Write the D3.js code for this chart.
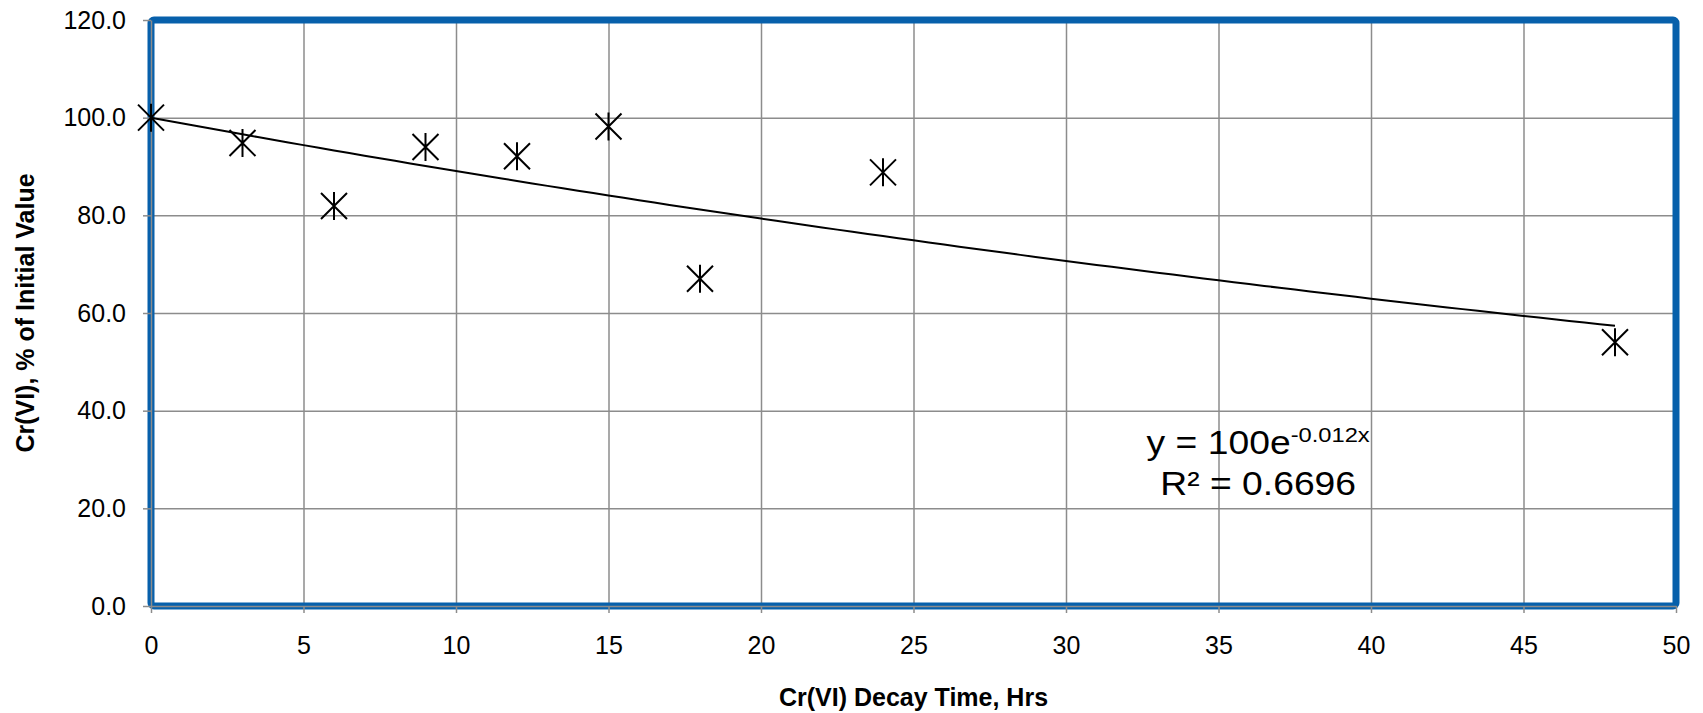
<!DOCTYPE html>
<html>
<head>
<meta charset="utf-8">
<script src="https://cdn.jsdelivr.net/npm/d3@7"></script>
<style>
  body { margin: 0; background: #fff; }
  svg { display: block; font-family: 'Liberation Sans', Arial, sans-serif; }
  .grid line { stroke: #8c8c8c; stroke-width: 1.5; }
  .grid .domain { display: none; }
  .axis .domain, .axis line { stroke: #8c8c8c; stroke-width: 1.5; }
  .axis text { font-size: 25px; fill: #000; }
</style>
</head>
<body>
<div id="chart-area"></div>
<script>
// page size and plot box
const W = 1703;
const H = 713;
const margin = { left: 151, right: 27, top: 20, bottom: 107 };
const width = W - margin.left - margin.right;
const height = H - margin.top - margin.bottom;

// data
const hours = [0, 3, 6, 9, 12, 15, 18, 24, 48];
const percent = [100, 94.8, 81.9, 94.0, 92.1, 98.2, 67.0, 88.8, 54.0];
const xTicks = [0, 5, 10, 15, 20, 25, 30, 35, 40, 45, 50];
const yTicks = [0, 20, 40, 60, 80, 100, 120];
const eqMain = 'y = 100e';
const eqSup = '-0.012x';
const eqR2 = 'R² = 0.6696';

const points = hours.map((h, i) => ({ x: h, y: percent[i] }));

const svg = d3
  .select('#chart-area')
  .append('svg')
  .attr('width', W)
  .attr('height', H);

const g = svg
  .append('g')
  .attr('transform', `translate(${margin.left}, ${margin.top})`);

// scales
const x = d3.scaleLinear().domain([0, 50]).range([0, width]);
const y = d3.scaleLinear().domain([0, 120]).range([height, 0]);

// gridlines
g.append('g')
  .attr('class', 'grid')
  .attr('transform', `translate(0, ${height})`)
  .call(d3.axisBottom(x).tickValues(xTicks).tickSize(-height).tickFormat(''));

g.append('g')
  .attr('class', 'grid')
  .call(d3.axisLeft(y).tickValues(yTicks).tickSize(-width).tickFormat(''));

// blue frame round the plot area
g.append('rect')
  .attr('x', 0)
  .attr('y', 0)
  .attr('width', width)
  .attr('height', height)
  .attr('rx', 3)
  .attr('fill', 'none')
  .attr('stroke', '#0760ab')
  .attr('stroke-width', 7);

// axes
g.append('g')
  .attr('class', 'axis')
  .attr('transform', `translate(0, ${height})`)
  .call(
    d3.axisBottom(x).tickValues(xTicks).tickSizeInner(7).tickSizeOuter(0).tickPadding(23)
  );

g.append('g')
  .attr('class', 'axis')
  .call(
    d3
      .axisLeft(y)
      .tickValues(yTicks)
      .tickSizeInner(8)
      .tickSizeOuter(0)
      .tickPadding(17)
      .tickFormat(d3.format('.1f'))
  );

// exponential trendline, intercept fixed at 100 (least squares on ln)
let sxl = 0,
  sxx = 0;
points.forEach((p) => {
  sxl += p.x * Math.log(p.y / 100);
  sxx += p.x * p.x;
});
const b = sxl / sxx;
const trend = d3.range(0, d3.max(hours) + 0.5, 0.5).map((t) => ({
  x: t,
  y: 100 * Math.exp(b * t),
}));

const line = d3
  .line()
  .x((d) => x(d.x))
  .y((d) => y(d.y));

g.append('path')
  .datum(trend)
  .attr('fill', 'none')
  .attr('stroke', '#000')
  .attr('stroke-width', 2)
  .attr('d', line);

// star markers (X plus vertical bar)
const s = 13;
g.selectAll('.marker')
  .data(points)
  .enter()
  .append('path')
  .attr('class', 'marker')
  .attr('transform', (d) => `translate(${x(d.x)}, ${y(d.y)})`)
  .attr(
    'd',
    `M${-s},${-s}L${s},${s}M${-s},${s}L${s},${-s}M0,${-s - 1}L0,${s + 1}`
  )
  .attr('fill', 'none')
  .attr('stroke', '#000')
  .attr('stroke-width', 2);

// equation label
const eq = g
  .append('g')
  .attr('transform', `translate(${x(36.3)}, 0) scale(1.13, 1)`);

const eq1 = eq
  .append('text')
  .attr('y', 434)
  .attr('text-anchor', 'middle')
  .attr('font-size', 33)
  .attr('fill', '#000');
eq1.append('tspan').text(eqMain);
eq1.append('tspan').attr('font-size', 21).attr('dy', -12).text(eqSup);

eq.append('text')
  .attr('y', 475)
  .attr('text-anchor', 'middle')
  .attr('font-size', 33)
  .attr('fill', '#000')
  .text(eqR2);

// axis titles
svg
  .append('text')
  .attr('x', margin.left + width / 2)
  .attr('y', 706)
  .attr('text-anchor', 'middle')
  .attr('font-size', 25)
  .attr('font-weight', 'bold')
  .text('Cr(VI) Decay Time, Hrs');

svg
  .append('text')
  .attr('transform', `translate(34, ${margin.top + height / 2}) rotate(-90)`)
  .attr('text-anchor', 'middle')
  .attr('font-size', 25)
  .attr('font-weight', 'bold')
  .text('Cr(VI), % of Initial Value');
</script>
</body>
</html>
